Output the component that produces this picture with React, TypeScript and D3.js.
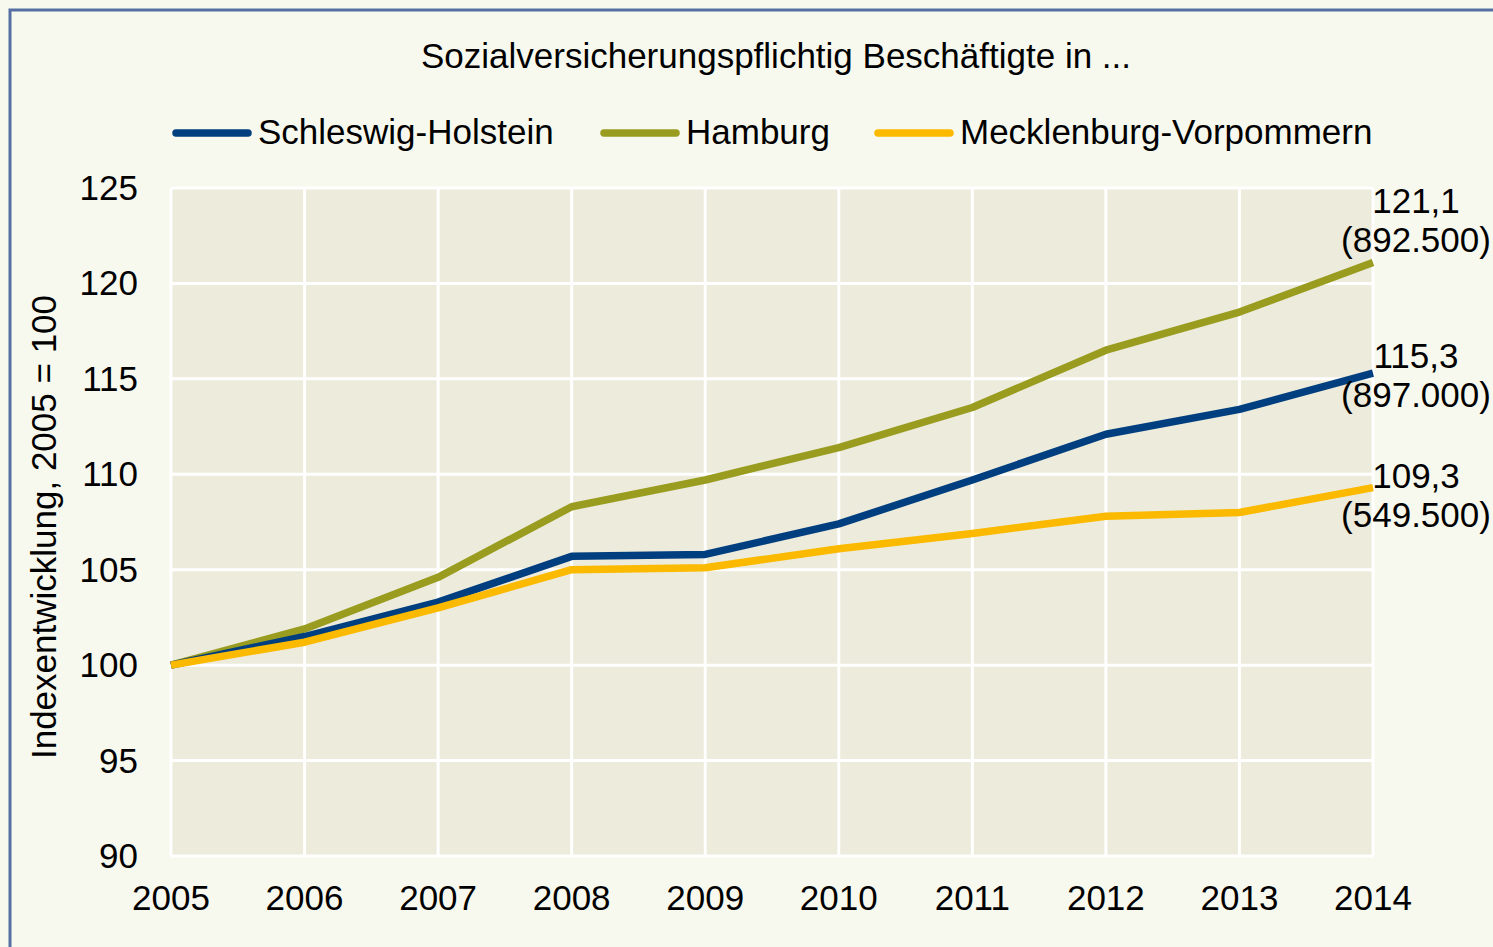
import * as d3 from 'd3';
import React, {useEffect, useRef} from 'react';

const years = [2005, 2006, 2007, 2008, 2009, 2010, 2011, 2012, 2013, 2014];
const yTicks = [90, 95, 100, 105, 110, 115, 120, 125];

const seriesNames = ['Hamburg', 'Schleswig-Holstein', 'Mecklenburg-Vorpommern'];
const hamburg = [100, 101.9, 104.6, 108.3, 109.7, 111.4, 113.5, 116.5, 118.5, 121.1];
const schleswigHolstein = [100, 101.5, 103.3, 105.7, 105.8, 107.4, 109.7, 112.1, 113.4, 115.3];
const mecklenburg = [100, 101.2, 103.0, 105.0, 105.1, 106.1, 106.9, 107.8, 108.0, 109.3];
const endLabels = [['121,1', '(892.500)'], ['115,3', '(897.000)'], ['109,3', '(549.500)']];

const legendOrder = ['Schleswig-Holstein', 'Hamburg', 'Mecklenburg-Vorpommern'];

const App = () => {
  const ref = useRef(null);

  useEffect(() => {
    const W = 1493, H = 947;
    const svg = d3.select(ref.current);
    svg.selectAll('*').remove();
    const font = 'Liberation Sans, Arial, sans-serif';
    const fs = 35;
    const colors = {'Hamburg': '#999c1f', 'Schleswig-Holstein': '#003f7f', 'Mecklenburg-Vorpommern': '#fbb900'};
    const values = {'Hamburg': hamburg, 'Schleswig-Holstein': schleswigHolstein, 'Mecklenburg-Vorpommern': mecklenburg};

    // background + frame
    svg.append('rect').attr('width', W).attr('height', H).attr('fill', '#f8f9ee');
    svg.append('rect').attr('x', 10).attr('y', 10).attr('width', W + 20).attr('height', H + 20)
      .attr('fill', 'none').attr('stroke', '#5470a3').attr('stroke-width', 3);

    const x = d3.scaleLinear().domain([2005, 2014]).range([171, 1373]);
    const y = d3.scaleLinear().domain([90, 125]).range([856, 188]);

    svg.append('rect').attr('x', x(2005)).attr('y', y(125))
      .attr('width', x(2014) - x(2005)).attr('height', y(90) - y(125)).attr('fill', '#edebdb');

    const grid = svg.append('g').attr('stroke', '#ffffff').attr('stroke-width', 3);
    grid.selectAll('.h').data(yTicks).enter().append('line')
      .attr('x1', x(2005)).attr('x2', x(2014)).attr('y1', d => y(d)).attr('y2', d => y(d));
    grid.selectAll('.v').data(years).enter().append('line')
      .attr('x1', d => x(d)).attr('x2', d => x(d)).attr('y1', y(125)).attr('y2', y(90));

    // axis labels
    svg.append('g').selectAll('text').data(yTicks).enter().append('text')
      .attr('x', 138).attr('y', d => y(d) + 12).attr('text-anchor', 'end')
      .attr('font-family', font).attr('font-size', fs).attr('fill', '#000').text(d => d);
    svg.append('g').selectAll('text').data(years).enter().append('text')
      .attr('x', d => x(d)).attr('y', 910).attr('text-anchor', 'middle')
      .attr('font-family', font).attr('font-size', fs).attr('fill', '#000').text(d => d);

    svg.append('text').attr('transform', 'translate(56,527) rotate(-90)').attr('text-anchor', 'middle')
      .attr('font-family', font).attr('font-size', fs).attr('fill', '#000').text('Indexentwicklung, 2005 = 100');

    svg.append('text').attr('x', 776).attr('y', 68).attr('text-anchor', 'middle')
      .attr('font-family', font).attr('font-size', fs).attr('fill', '#000')
      .text('Sozialversicherungspflichtig Beschäftigte in ...');

    // legend
    const legendX = [173, 601, 875];
    legendOrder.forEach((name, i) => {
      const g = svg.append('g');
      g.append('line').attr('x1', legendX[i] + 3).attr('x2', legendX[i] + 75).attr('y1', 133).attr('y2', 133)
        .attr('stroke', colors[name]).attr('stroke-width', 7.5).attr('stroke-linecap', 'round');
      g.append('text').attr('x', legendX[i] + 85).attr('y', 144)
        .attr('font-family', font).attr('font-size', fs).attr('fill', '#000').text(name);
    });

    // lines
    const line = d3.line().x((d, i) => x(years[i])).y(d => y(d));
    seriesNames.forEach(name => {
      svg.append('path').datum(values[name]).attr('d', line)
        .attr('fill', 'none').attr('stroke', colors[name]).attr('stroke-width', 7.5)
        .attr('stroke-linejoin', 'round');
    });

    // end labels (manually placed like the original)
    const labelDy = [-49, -5, 0];
    seriesNames.forEach((name, i) => {
      const v = values[name][values[name].length - 1];
      const t = svg.append('text').attr('text-anchor', 'middle')
        .attr('font-family', font).attr('font-size', fs).attr('fill', '#000');
      t.append('tspan').attr('x', 1416).attr('y', y(v) + labelDy[i]).text(endLabels[i][0]);
      t.append('tspan').attr('x', 1416).attr('dy', 39).text(endLabels[i][1]);
    });
  });

  return (
    <svg ref={ref} width={1493} height={947} style={{position: 'absolute', left: 0, top: 0}} />
  );
};

export default App;
